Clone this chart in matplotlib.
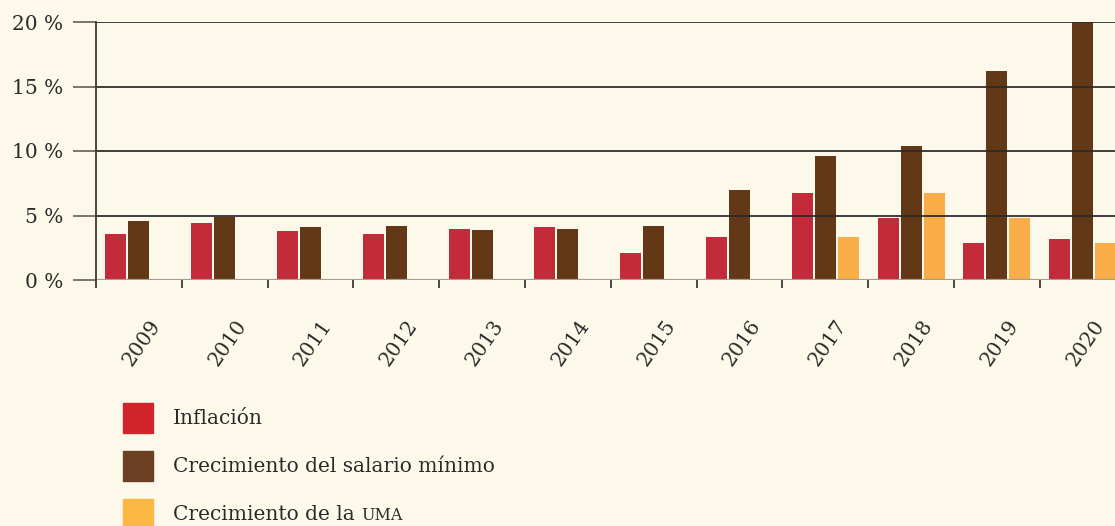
import numpy as np
import matplotlib.pyplot as plt

# data (%)
years = ['2009', '2010', '2011', '2012', '2013', '2014',
         '2015', '2016', '2017', '2018', '2019', '2020']
inflacion = [3.57, 4.40, 3.82, 3.57, 3.97, 4.08, 2.13, 3.36, 6.77, 4.83, 2.83, 3.15]
salario_minimo = [4.60, 4.85, 4.10, 4.20, 3.90, 3.95, 4.20, 7.00, 9.58, 10.39, 16.21, 20.00]
uma = [np.nan] * 8 + [3.36, 6.77, 4.83, 2.83]
y_ticks = [0, 5, 10, 15, 20]

bg = '#fdf9ea'
c_red, c_brown, c_orange = '#c42b3a', '#633816', '#f9ad48'
plt.rcParams['font.family'] = ['DejaVu Serif']

fig = plt.figure(figsize=(11.15, 5.26), dpi=100, facecolor=bg)
# axes runs a little past the right edge, as in the original
ax = fig.add_axes([96 / 1115, 1 - 280 / 526, 1029.6 / 1115, 258 / 526])
ax.set_facecolor(bg)

x = np.arange(len(years)) + 0.5
w = 21 / 85.8
step = 23 / 85.8
ax.bar(x - step, inflacion, w, color=c_red, zorder=2)
ax.bar(x, salario_minimo, w, color=c_brown, zorder=2)
ax.bar(x + step, uma, w, color=c_orange, zorder=2)

ax.set_xlim(0, len(years))
ax.set_ylim(0, 20)

# gridlines on top of the bars
for v in y_ticks[1:]:
    ax.axhline(v, color='#2a2a2a', lw=1.4, alpha=0.9, zorder=3)
ax.axhline(0, color='#a39d92', lw=1.6, zorder=3)

for s in ['top', 'right', 'bottom']:
    ax.spines[s].set_visible(False)
ax.spines['left'].set_color('#3a3a3a')
ax.spines['left'].set_linewidth(1.3)
ax.spines['left'].set_zorder(4)

ax.set_yticks(y_ticks)
ax.set_yticklabels([f'{v} %' for v in y_ticks], fontsize=14.5, color='#2a2a2a')
ax.tick_params(axis='y', length=16.5, width=1.3, color='#6e6a62', pad=7)

# category boundary ticks
ax.set_xticks(np.arange(0, len(years) + 1))
ax.set_xticklabels([])
ax.tick_params(axis='x', length=5.5, width=1.3, color='#3a3a3a')

for xi, yr in zip(x, years):
    ax.annotate(yr, (xi, 0), xytext=(2, -45), textcoords='offset points',
                rotation=55, ha='center', va='center', fontsize=14.5,
                color='#2a2a2a', annotation_clip=False)

# legend
items = [('Inflación', '#d2232a'), ('Crecimiento del salario mínimo', '#6b3f23'),
         ('Crecimiento de la ', '#fbb843')]
rows = [418, 466, 514]
for (lab, col), yc in zip(items, rows):
    fig.patches.append(plt.Rectangle((123 / 1115, 1 - (yc + 15) / 526), 30 / 1115, 30 / 526,
                                     transform=fig.transFigure, color=col, figure=fig))
    t = fig.text(173 / 1115, 1 - (yc + 6) / 526, lab, fontsize=14.5, color='#2a2a2a',
                 va='baseline', ha='left')

fig.canvas.draw()
bb = t.get_window_extent()
fig.text(bb.x1 / 1115, 1 - (514 + 6) / 526, 'UMA', fontsize=11.5, color='#2a2a2a',
         va='baseline', ha='left')

fig.savefig('out.png', dpi=100, facecolor=bg)
